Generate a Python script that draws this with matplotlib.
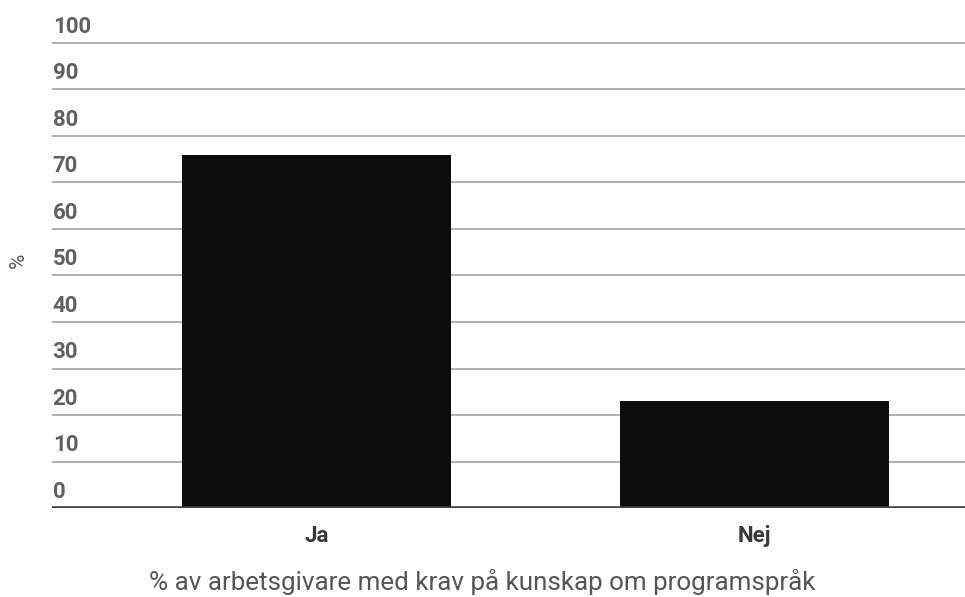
import matplotlib.pyplot as plt

# data
categories = ["Ja", "Nej"]
values = [76, 23]
yticks = [0, 10, 20, 30, 40, 50, 60, 70, 80, 90, 100]

plt.rcParams['font.family'] = ['Roboto', 'DejaVu Sans']

W, H = 965, 597
fig = plt.figure(figsize=(W / 100, H / 100), dpi=100)
# axes placed in pixel terms: left edge 52, baseline 508, 0->100 spans 465 px
px_per_unit = 4.65
ymax = 101
ax = fig.add_axes([52 / W, 1 - 508 / H, 1 - 52 / W, ymax * px_per_unit / H])

x = range(len(categories))
ax.bar(x, values, width=0.614, color="#0d0d0d", zorder=3)
ax.set_xlim(-0.604, 1.48)
ax.set_ylim(0, ymax)

for v in yticks:
    ax.axhline(v, color="#aaaaaa", lw=1.3, zorder=1)
    ax.annotate(str(v), xy=(0, v), xycoords=ax.get_yaxis_transform(),
                xytext=(0.5, 7.5), textcoords="offset points",
                ha="left", va="baseline", fontsize=16, fontweight="bold",
                color="#606060")
ax.axhline(0, color="#444444", lw=2.6, zorder=4)

ax.set_yticks([])
ax.set_xticks(list(x))
ax.set_xticklabels(categories, fontsize=16, fontweight="bold", color="#383838")
ax.tick_params(axis="x", length=0, pad=12)
for s in ax.spines.values():
    s.set_visible(False)

fig.text(0.5, 1 - 590 / H, "% av arbetsgivare med krav på kunskap om programspråk",
         ha="center", va="baseline", fontsize=18.7, color="#555555")
fig.text(18 / W, 1 - 260 / H, "%", rotation=90, ha="center", va="center",
         fontsize=15, color="#555555")

fig.savefig("out.png", dpi=100)
